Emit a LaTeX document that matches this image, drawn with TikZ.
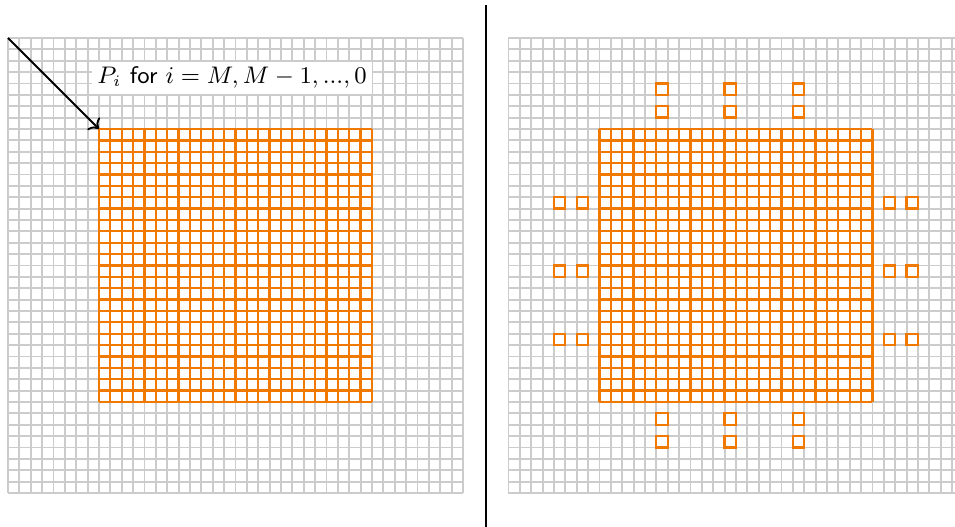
\documentclass[tikz,border=0pt]{standalone}
\usepackage{amsmath}
\usetikzlibrary{arrows.meta}
\definecolor{hotorange}{RGB}{242,121,0}
\tikzset{
  faint/.style={draw=black!20, line width=0.7pt, step=0.15cm},
  hot/.style={draw=hotorange, line width=0.85pt, step=0.15cm},
  lbl/.style={fill=white, inner sep=2pt, font=\fontsize{9}{11}\selectfont},
  ptr/.style={->, line width=0.7pt}
}

\begin{document}
\begin{tikzpicture}[x=0.15cm,y=0.15cm]
\useasboundingbox (-0.7,-2.99) rectangle (83.26,43.34);
% left panel
\draw[faint] (0,0) grid (40,40);
\draw[hot] (8,8) grid (32,32);
\coordinate (lcorner) at (0,40);
\coordinate (lblock) at (8,32);
\node[lbl] (plabel) at (19.7,36.5) {$P_i$ \textsf{for} $i = M, M-1, ..., 0$};
\draw[ptr] (lcorner) -- (lblock);
% divider
\coordinate (dtop) at (42,42.9);
\coordinate (dbot) at (42,-3);
\draw[line width=0.7pt] (dtop) -- (dbot);
% right panel
\begin{scope}[xshift=6.6cm]
\draw[faint] (0,0) grid (40,40);
\draw[hot] (8,8) grid (32,32);
\foreach \c in {13,19,25}
  \foreach \r in {4,6,33,35} {
    \draw[hot] (\c,\r) rectangle ++(1,1);
    \draw[hot] (\r,\c) rectangle ++(1,1);
  }
\end{scope}
\end{tikzpicture}
\end{document}
